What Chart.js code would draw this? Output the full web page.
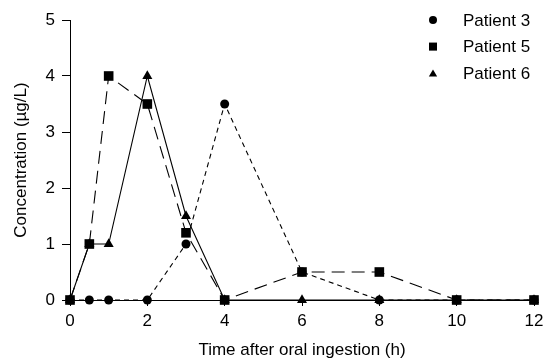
<!DOCTYPE html>
<html>
<head>
<meta charset="utf-8">
<script src="https://cdn.jsdelivr.net/npm/chart.js@4"></script>
<style>
  html, body { margin: 0; padding: 0; background: #fff; }
  #wrap { width: 543px; height: 361px; }
</style>
</head>
<body>
<div id="wrap"><canvas id="chart"></canvas></div>
<script>
// Sampling times (h)
const times = [0, 0.5, 1, 2, 3, 4, 6, 8, 10, 12];

// Concentration (µg/L) per patient
const patient3 = [0, 0, 0, 0, 1, 3.5, 0.5, 0, 0, 0];
const patient5 = [0, 1, 4, 3.5, 1.2, 0, 0.5, 0.5, 0, 0];
const patient6 = [0, 1, 1, 4, 1.5, 0, 0, 0, 0, 0];

const seriesNames = ['Patient 3', 'Patient 5', 'Patient 6'];
const xTicks = [0, 2, 4, 6, 8, 10, 12];
const yTicks = [0, 1, 2, 3, 4, 5];

const font = { family: 'Liberation Sans, Arial, sans-serif', size: 17 };

const toPoints = (vals) => times.map((t, i) => ({ x: t, y: vals[i] }));

// Legend drawn in the top-right corner of the plot
const cornerLegend = {
    id: 'cornerLegend',
    afterDraw(chart) {
        const ctx = chart.ctx;
        const rows = [
            { label: seriesNames[0], style: 'circle', r: 4 },
            { label: seriesNames[1], style: 'rect', r: 5.7 },
            { label: seriesNames[2], style: 'triangle', r: 4.8 },
        ];
        ctx.save();
        ctx.font = font.size + 'px ' + font.family;
        ctx.textBaseline = 'middle';
        rows.forEach((row, i) => {
            const y = 20 + i * 26.6;
            ctx.fillStyle = '#000';
            ctx.strokeStyle = '#000';
            Chart.helpers.drawPoint(ctx, { pointStyle: row.style, radius: row.r, borderWidth: 0 }, 433, y + (row.style === 'triangle' ? 1 : 0));
            ctx.fillText(row.label, 463, y + 1);
        });
        ctx.restore();
    }
};

new Chart(document.getElementById('chart'), {
    type: 'line',
    data: {
        datasets: [
            {
                label: seriesNames[1],
                data: toPoints(patient5),
                borderColor: '#000',
                backgroundColor: '#000',
                borderWidth: 1.1,
                borderDash: [13, 7],
                pointStyle: 'rect',
                pointRadius: 6.8,
                pointBorderWidth: 0,
                order: 0,
            },
            {
                label: seriesNames[0],
                data: toPoints(patient3),
                borderColor: '#000',
                backgroundColor: '#000',
                borderWidth: 1.1,
                borderDash: [5, 4],
                pointStyle: 'circle',
                pointRadius: 4.5,
                pointBorderWidth: 0,
                order: 1,
            },
            {
                label: seriesNames[2],
                data: toPoints(patient6),
                borderColor: '#000',
                backgroundColor: '#000',
                borderWidth: 1.1,
                pointStyle: 'triangle',
                pointRadius: 5.8,
                pointBorderWidth: 0,
                order: 2,
            },
        ],
    },
    options: {
        responsive: true,
        maintainAspectRatio: false,
        animation: false,
        clip: false,
        layout: { padding: { top: 20, right: 9, left: 0, bottom: 0 } },
        plugins: {
            legend: { display: false },
            tooltip: { enabled: false },
        },
        scales: {
            x: {
                type: 'linear',
                min: 0,
                max: 12,
                afterBuildTicks: (scale) => { scale.ticks = xTicks.map((v) => ({ value: v })); },
                afterFit: (scale) => {
                    scale.height = 61;
                    scale.paddingLeft = 0;
                    scale.paddingRight = 0;
                },
                ticks: { color: '#000', font: font, padding: 5, maxRotation: 0 },
                grid: { drawOnChartArea: false, drawTicks: true, tickLength: 6, color: '#000' },
                border: { display: true, color: '#000', width: 1 },
                title: { display: true, text: 'Time after oral ingestion (h)', color: '#000', font: font, padding: { top: 0, bottom: 0 } },
            },
            y: {
                min: 0,
                max: 5,
                afterBuildTicks: (scale) => { scale.ticks = yTicks.map((v) => ({ value: v })); },
                afterFit: (scale) => {
                    scale.width = 70;
                    scale.paddingTop = 0;
                    scale.paddingBottom = 0;
                },
                ticks: { color: '#000', font: font, padding: 7 },
                grid: { drawOnChartArea: false, drawTicks: true, tickLength: 8, color: '#000' },
                border: { display: true, color: '#000', width: 1 },
                title: { display: true, text: 'Concentration (µg/L)', color: '#000', font: font, padding: { top: 11, bottom: 0 } },
            },
        },
    },
    plugins: [cornerLegend],
});
</script>
</body>
</html>
